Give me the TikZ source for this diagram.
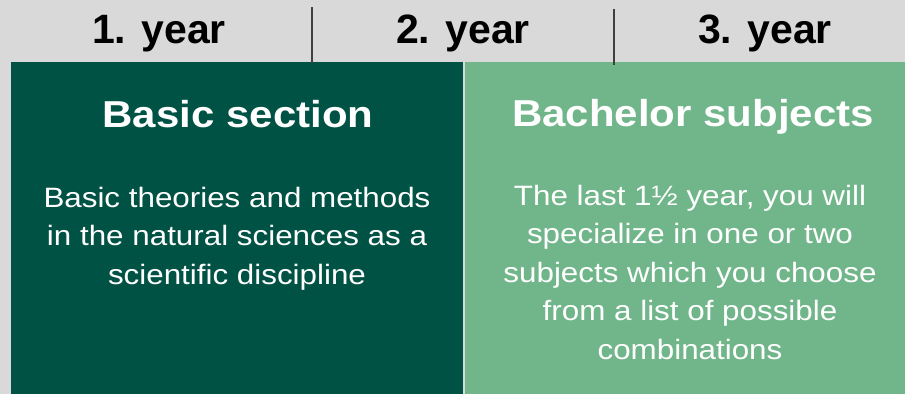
\documentclass[tikz,border=0pt]{standalone}
\usepackage{fontspec}
\setmainfont{Liberation Sans}
\newfontfamily\widefont[FakeStretch=1.12]{Liberation Sans}
\usetikzlibrary{positioning}
\definecolor{headgray}{HTML}{D9D9D9}
\definecolor{sepgray}{HTML}{404040}
\definecolor{basicgreen}{RGB}{0,82,68}
\definecolor{bachgreen}{RGB}{113,182,138}
\tikzset{
	yearlabel/.style={
		anchor=base,
		inner sep=0pt,
		font=\fontsize{41}{45}\selectfont\bfseries,
	},
	blocktitle/.style={
		anchor=base,
		inner sep=0pt,
		text=white,
		font=\widefont\fontsize{37.5}{42}\selectfont\bfseries,
	},
	blocktext/.style={
		anchor=north,
		inner sep=0pt,
		align=center,
		text=white,
		font=\widefont\fontsize{28}{38.5}\selectfont,
	},
	yearsep/.style={
		draw=sepgray,
		line width=2pt,
	},
}

\begin{document}
\begin{tikzpicture}[x=1pt,y=-1pt]
		\useasboundingbox (0,0) rectangle (905,394);
		\fill[headgray] (0,0) rectangle (905,394);

		% blocks
		\fill[basicgreen] (11,62) rectangle (463,394);
		\fill[bachgreen] (465,62) rectangle (905,394);

		% header row
		\node[yearlabel] (year1) at (159,43) {1. year};
		\node[yearlabel] (year2) at (463,43) {2. year};
		\node[yearlabel] (year3) at (765,43) {3. year};

		\coordinate (sep1top) at (312,7);
		\coordinate (sep1bot) at (312,63);
		\coordinate (sep2top) at (614,9);
		\coordinate (sep2bot) at (614,65);
		\draw[yearsep] (sep1top) -- (sep1bot);
		\draw[yearsep] (sep2top) -- (sep2bot);

		\node[blocktitle] (basic) at (238,127) {Basic section};
		\node[blocktext] (basictext) at (237,187) {Basic theories and methods\\in the natural sciences as a\\scientific discipline};

		\node[blocktitle] (bachelor) at (693,126) {Bachelor subjects};
		\node[blocktext] (bachtext) at (690,185) {The last 1½ year, you will\\specialize in one or two\\subjects which you choose\\from a list of possible\\combinations};

	\end{tikzpicture}
\end{document}
